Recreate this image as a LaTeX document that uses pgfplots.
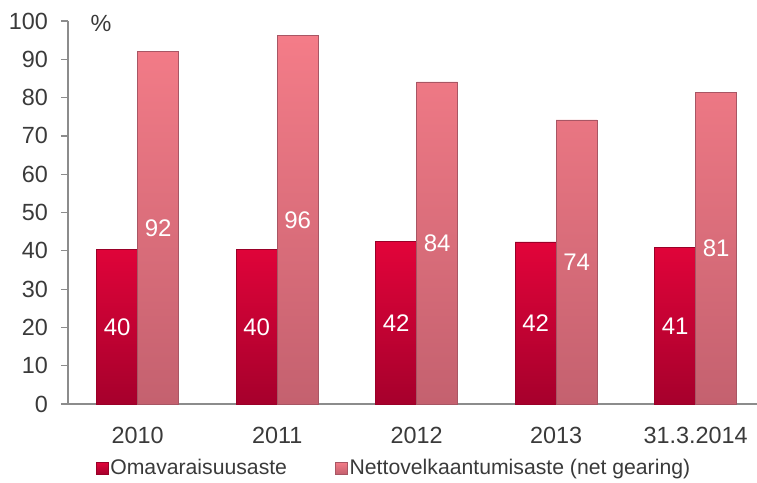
\documentclass[border=0pt]{standalone}
\usepackage{fontspec}
\setmainfont{Liberation Sans}
\usepackage{pgfplots}
\pgfplotsset{compat=1.18}
\definecolor{txt}{HTML}{3A3A3A}
\definecolor{axgray}{HTML}{8C8C8C}
\definecolor{redtop}{HTML}{E2043A}
\definecolor{redbot}{HTML}{A6002C}
\definecolor{rededge}{HTML}{9A0028}
\definecolor{pinktop}{HTML}{F47C88}
\definecolor{pinkbot}{HTML}{C4616F}
\definecolor{pinkedge}{HTML}{A85664}
\pgfplotstableread{
x eq net
0 40.3 92.0
1 40.3 96.2
2 42.4 84.1
3 42.3 74.2
4 40.8 81.4
}\datatable
\begin{document}
\begin{tikzpicture}
\begin{axis}[
  name=ax,
  scale only axis,
  width=344.5pt, height=191.5pt,
  xmin=-0.5, xmax=4.44,
  ymin=0, ymax=100,
  ybar=0pt, bar width=20.5pt,
  axis lines*=left,
  axis line style={axgray, line width=0.6pt},
  clip=false,
  ytick={0,10,...,100},
  xtick={0,1,2,3,4},
  xticklabels={2010,2011,2012,2013,31.3.2014},
  x tick style={draw=none},
  y tick style={axgray, line width=0.6pt},
  tick align=outside,
  major tick length=3.5pt,
  extra x ticks={-0.5,0.5,1.5,2.5,3.5},
  extra x tick labels={},
  extra x tick style={tick style={draw=axgray, line width=0.6pt}, major tick length=3pt},
  /pgf/number format/assume math mode=true,
  tick label style={font=\fontsize{11.7}{14}\selectfont, text=txt},
  yticklabel style={xshift=-3pt},
  xticklabel style={yshift=-4.5pt},
  nodes near coords={\pgfmathprintnumber[fixed,precision=0]{\pgfplotspointmeta}},
  visualization depends on={rawy \as \ry},
  every node near coord/.append style={anchor=center, yshift={-\ry*0.9575pt}, text=white, font=\fontsize{12}{14}\selectfont},
  legend style={at={(axis description cs:0.476,0)}, anchor=center, xshift=-1pt, yshift=-32pt,
    draw=none, fill=none, legend columns=2, font=\fontsize{10.6}{13}\selectfont, text=txt,
    nodes={inner xsep=1pt},
    /tikz/every even column/.append style={column sep=23pt}},
  legend cell align=left,
]
\addplot[draw=rededge, line width=0.3pt, top color=redtop, bottom color=redbot,
  legend image code/.code={\path[draw=rededge,line width=0.3pt,top color=redtop,bottom color=redbot] (0pt,-3pt) rectangle (6pt,3pt);}]
  table[x=x, y=eq] {\datatable};
\addlegendentry{Omavaraisuusaste}
\addplot[draw=pinkedge, line width=0.3pt, top color=pinktop, bottom color=pinkbot,
  legend image code/.code={\path[draw=pinkedge,line width=0.3pt,top color=pinktop,bottom color=pinkbot] (0pt,-3pt) rectangle (6pt,3pt);}]
  table[x=x, y=net] {\datatable};
\addlegendentry{Nettovelkaantumisaste (net gearing)}
\node[anchor=center, text=txt, font=\fontsize{11.7}{14}\selectfont] at ([xshift=16.5pt,yshift=-1pt]rel axis cs:0,1) {\%};
\end{axis}
\pgfresetboundingbox
\path[use as bounding box] ([xshift=-34pt,yshift=-39.5pt]ax.south west) rectangle ([xshift=344.5pt,yshift=202pt]ax.south west);
\end{tikzpicture}
\end{document}
